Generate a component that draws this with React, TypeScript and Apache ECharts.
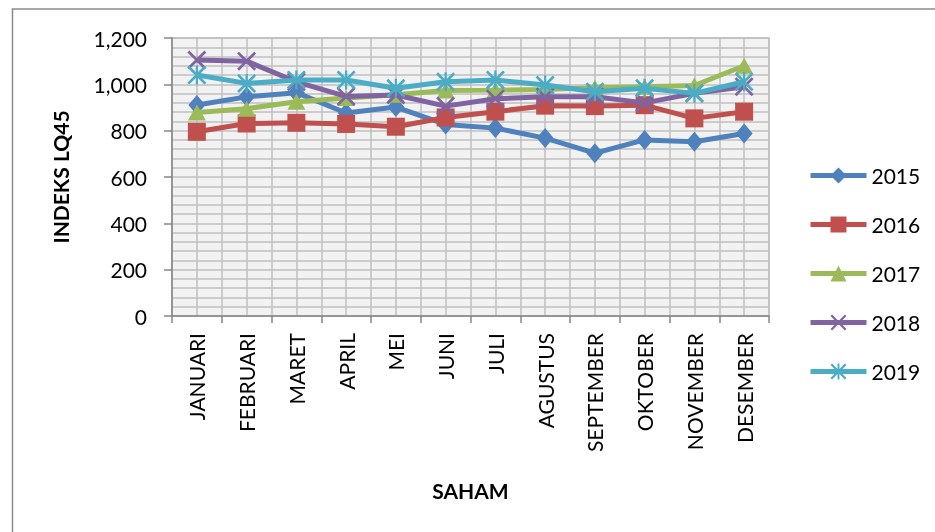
import React, { useEffect, useRef } from "react";
import * as echarts from "echarts";

const months = ["JANUARI", "FEBRUARI", "MARET", "APRIL", "MEI", "JUNI", "JULI", "AGUSTUS", "SEPTEMBER", "OKTOBER", "NOVEMBER", "DESEMBER"];
const seriesNames = ["2015", "2016", "2017", "2018", "2019"];
const v2015 = [911, 946, 964, 876, 902, 827, 811, 768, 703, 760, 752, 788];
const v2016 = [795, 831, 834, 829, 817, 857, 882, 908, 906, 910, 853, 882];
const v2017 = [878, 895, 925, 941, 955, 973, 975, 978, 985, 990, 995, 1080];
const v2018 = [1105, 1100, 1011, 948, 954, 906, 938, 946, 946, 920, 961, 990];
const v2019 = [1040, 1004, 1019, 1019, 983, 1011, 1019, 997, 968, 983, 961, 1011];
const yTicks = { min: 0, max: 1200, interval: 200 };

const colors = ["#4F81BD", "#C0504D", "#9BBB59", "#8064A2", "#4BACC6"];

const X_PATH = "path://M0 2 L2 0 L10 8 L18 0 L20 2 L12 10 L20 18 L18 20 L10 12 L2 20 L0 18 L8 10 Z";
const STAR_PATH =
  "path://M0 2 L2 0 L20 18 L18 20 Z M18 0 L20 2 L2 20 L0 18 Z M8.8 0 L11.2 0 L11.2 20 L8.8 20 Z";

const FONT = "Lato";

export default function App() {
  const ref = useRef<HTMLDivElement>(null);
  useEffect(() => {
    if (!ref.current) return;
    const chart = echarts.init(ref.current, undefined, { renderer: "svg" });
    const values = [v2015, v2016, v2017, v2018, v2019];
    const symbols = ["diamond", "rect", "triangle", X_PATH, STAR_PATH];
    const sizes: any[] = [[17, 20], 18, [18, 16], 19, 19];
    const halfCats = months.flatMap((m) => [m + "a", m + "b"]);
    chart.setOption({
      animation: false,
      textStyle: { fontFamily: FONT },
      graphic: [
        {
          type: "rect",
          shape: { x: 12.5, y: 9, width: 1000, height: 1000 },
          style: { fill: "none", stroke: "#8a8a8a", lineWidth: 1.5 },
          silent: true,
        },
      ],
      grid: {
        left: 172,
        right: 166,
        top: 38,
        bottom: 216,
        show: true,
        backgroundColor: "#F2F2F2",
        borderColor: "#BFBFBF",
        borderWidth: 1.5,
      },
      legend: {
        orient: "vertical",
        left: 803,
        top: 160,
        itemWidth: 56,
        itemHeight: 20,
        itemGap: 28,
        lineStyle: { width: 5 },
        textStyle: { fontFamily: FONT, fontSize: 21, color: "#000", lineHeight: 20 },
        data: seriesNames,
      },
      xAxis: [
        {
          type: "category",
          data: months,
          boundaryGap: true,
          name: "SAHAM",
          nameLocation: "middle",
          nameGap: 164,
          nameTextStyle: { fontFamily: FONT, fontSize: 21, fontWeight: "bold", color: "#000", verticalAlign: "top" },
          axisLine: { lineStyle: { color: "#868686", width: 1.5 } },
          axisTick: { show: true, length: 7, lineStyle: { color: "#868686", width: 1.5 } },
          axisLabel: { rotate: 90, fontSize: 21, color: "#000", margin: 17, fontFamily: FONT, interval: 0 },
          splitLine: { show: false },
        },
        {
          type: "category",
          data: halfCats,
          boundaryGap: true,
          position: "bottom",
          axisLine: { show: false },
          axisTick: { show: false },
          axisLabel: { show: false },
          splitLine: { show: true, interval: 0, lineStyle: { color: "#BFBFBF", width: 1.5 } },
        },
      ],
      yAxis: {
        type: "value",
        min: yTicks.min,
        max: yTicks.max,
        interval: yTicks.interval,
        name: "INDEKS LQ45",
        nameLocation: "middle",
        nameGap: 101,
        nameTextStyle: { fontFamily: FONT, fontSize: 21, fontWeight: "bold", color: "#000" },
        axisLine: { show: true, lineStyle: { color: "#868686", width: 1.5 } },
        axisTick: { show: true, length: 8, lineStyle: { color: "#868686", width: 1.5 } },
        axisLabel: {
          fontSize: 21,
          color: "#000",
          margin: 25,
          fontFamily: FONT,
          formatter: (v: number) => v.toLocaleString("en-US"),
        },
        splitLine: { show: true, lineStyle: { color: "#BFBFBF", width: 1.5 } },
        minorTick: { show: false, splitNumber: 5 },
        minorSplitLine: { show: true, lineStyle: { color: "#BFBFBF", width: 1.5 } },
      },
      series: seriesNames.map((name, i) => ({
        name,
        type: "line",
        xAxisIndex: 0,
        data: values[i],
        symbol: symbols[i],
        symbolSize: sizes[i],
        showAllSymbol: true,
        lineStyle: { color: colors[i], width: 5 },
        itemStyle: { color: colors[i] },
        emphasis: { disabled: true },
        z: 3 + i,
      })),
    });
    return () => chart.dispose();
  }, []);
  return <div ref={ref} style={{ position: "fixed", left: 0, top: 0, width: 935, height: 532 }} />;
}
